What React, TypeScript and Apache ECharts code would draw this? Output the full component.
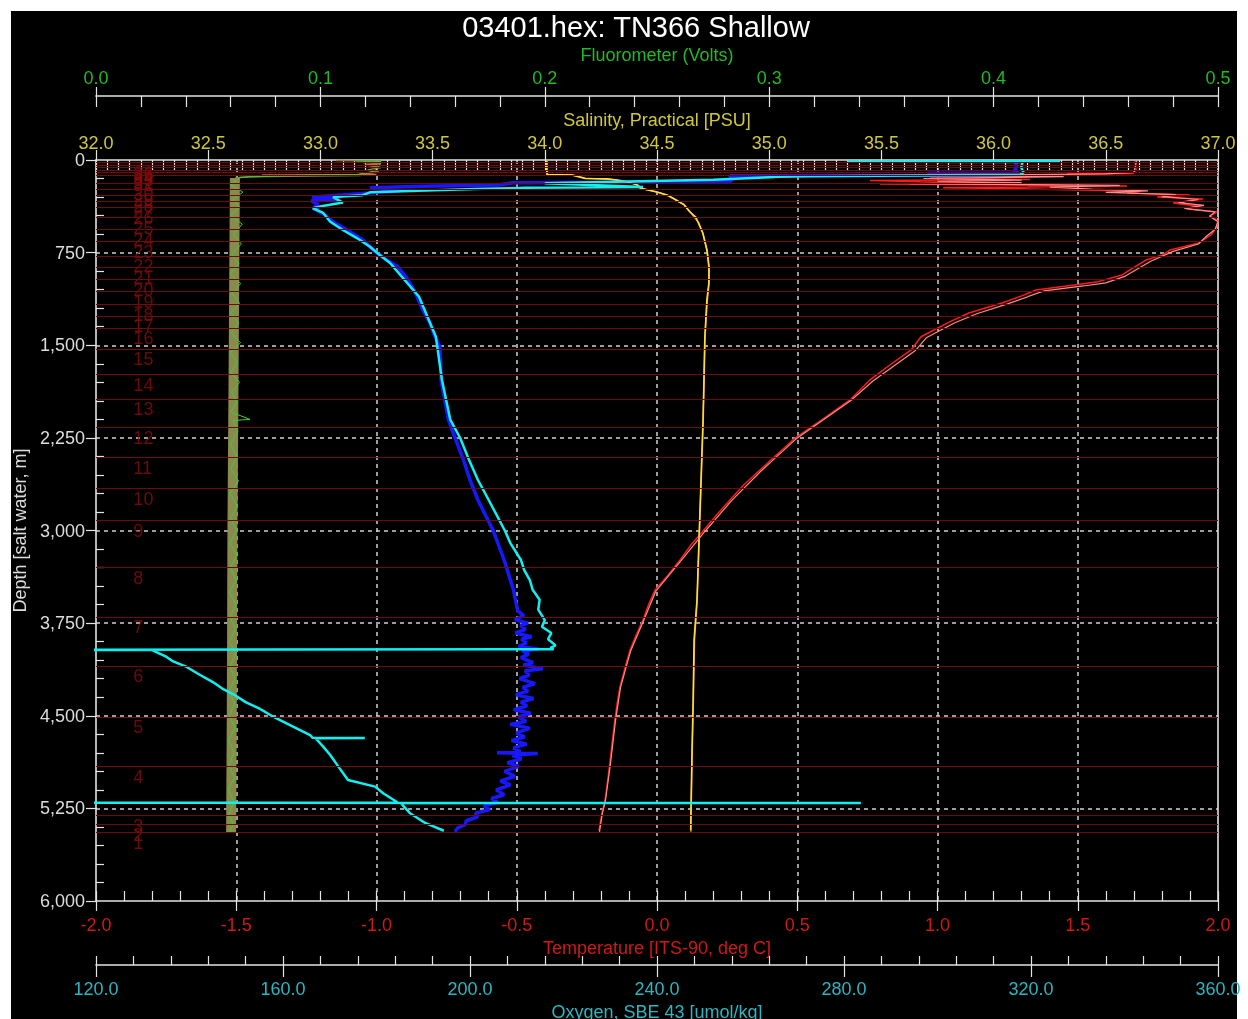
import { useEffect, useRef } from "react";
import * as echarts from "echarts";

const FONT = "'Liberation Sans', Arial, Helvetica, sans-serif";
const TITLE = "03401.hex: TN366 Shallow";

// ---- data: [depth m, value] ----
const TEMP_RED: [number, number][] = [
  [8, 1.704], [81, 1.708], [109, 1.697], [113, 1.462], [121, 1.472], [130, 1.069], [138, 1.305],
  [146, 0.973], [158, 1.33], [166, 0.759], [176, 0.938], [186, 1.258], [194, 0.795], [202, 1.305],
  [211, 1.676], [224, 1.02], [231, 1.258], [243, 1.519], [255, 1.722], [267, 1.676], [283, 1.9],
  [300, 1.783], [316, 1.946], [348, 1.84], [372, 1.925], [397, 1.89], [421, 1.996], [453, 1.971],
  [494, 2.0], [551, 1.993], [607, 1.975], [672, 1.932], [729, 1.829], [770, 1.8], [810, 1.743],
  [870, 1.7], [931, 1.658], [985, 1.572], [1012, 1.487], [1053, 1.351], [1100, 1.3], [1158, 1.23],
  [1239, 1.112], [1309, 1.045], [1431, 0.941], [1538, 0.906], [1660, 0.83], [1781, 0.759],
  [1943, 0.688], [2100, 0.59], [2251, 0.492], [2380, 0.43], [2510, 0.367], [2630, 0.31],
  [2753, 0.26], [2880, 0.21], [3004, 0.164], [3120, 0.12], [3239, 0.082], [3360, 0.04],
  [3482, -0.007], [3600, -0.03], [3725, -0.05], [3850, -0.075], [3968, -0.096], [4120, -0.115],
  [4267, -0.132], [4400, -0.142], [4534, -0.15], [4700, -0.159], [4882, -0.168], [5030, -0.176],
  [5182, -0.185], [5287, -0.196], [5431, -0.207],
];
const TEMP_PINK: [number, number][] = [
  [8, 1.71], [100, 1.7], [112, 1.6], [125, 1.07], [135, 1.45], [150, 0.95], [163, 1.3], [172, 1.0],
  [183, 1.3], [192, 0.9], [205, 1.65], [220, 1.4], [236, 1.55], [250, 1.75], [262, 1.6], [280, 1.85],
  [296, 1.8], [320, 1.93], [345, 1.86], [368, 1.95], [392, 1.88], [420, 1.99], [455, 1.97],
  [500, 2.0], [560, 1.99], [615, 1.96], [680, 1.93], [740, 1.84], [820, 1.76], [940, 1.67],
  [995, 1.6], [1020, 1.52], [1060, 1.38], [1165, 1.25], [1245, 1.14], [1320, 1.06], [1440, 0.96],
  [1545, 0.92], [1790, 0.77], [1950, 0.69], [2260, 0.495], [2520, 0.37], [2760, 0.265],
  [3010, 0.17], [3245, 0.085], [3490, -0.004], [3730, -0.048], [3975, -0.094], [4270, -0.13],
  [4540, -0.148], [4890, -0.166], [5190, -0.184], [5295, -0.195], [5440, -0.205],
];
const SAL_YELLOW: [number, number][] = [
  [8, 34.008], [60, 34.007], [118, 34.01], [122, 34.12], [150, 34.18], [152, 34.28], [178, 34.37],
  [200, 34.41], [227, 34.424], [259, 34.5], [283, 34.545], [324, 34.585], [364, 34.621],
  [421, 34.647], [462, 34.673], [502, 34.682], [591, 34.704], [729, 34.722], [866, 34.731],
  [996, 34.731], [1134, 34.722], [1271, 34.718], [1433, 34.713], [1781, 34.709], [2105, 34.705],
  [2591, 34.696], [3077, 34.687], [3563, 34.678], [3887, 34.665], [4372, 34.661], [4777, 34.656],
  [5182, 34.652], [5425, 34.65],
];
const SAL_ORANGE: [number, number][] = [
  [8, 34.01], [115, 34.012], [121, 34.008], [121.5, 34.126], [148, 34.18], [160, 34.32],
  [180, 34.38], [203, 34.415], [230, 34.43], [262, 34.505], [290, 34.55], [318, 34.58],
  [340, 34.6], [360, 34.62], [425, 34.65], [505, 34.685], [595, 34.705], [735, 34.724],
  [870, 34.733], [1000, 34.732], [1140, 34.724], [1280, 34.719], [1440, 34.714], [1790, 34.71],
  [2110, 34.706], [2600, 34.697], [3080, 34.688], [3570, 34.679], [3890, 34.667], [4380, 34.662],
  [4780, 34.657], [5190, 34.653], [5440, 34.651],
];
const OXY_BLUE: [number, number][] = [
  [2, 316.5], [50, 316.9], [95, 316.4], [105, 317.3], [108, 297.8], [112, 310], [122, 316.0],
  [128, 255.6], [170, 256.0], [178, 238.0], [184, 209.2], [202, 205.8], [212, 190.0], [224, 178.6],
  [250, 185.0], [300, 166.2], [320, 172.0], [330, 166.0], [360, 167.5], [391, 166.4], [445, 169.0],
  [500, 170.7], [567, 173.7], [648, 177.1], [742, 179.7], [810, 182.2], [864, 184.6], [956, 186.5],
  [1026, 187.6], [1107, 188.7], [1215, 189.9], [1320, 191.4], [1431, 192.5], [1512, 193.6],
  [1781, 193.8], [1943, 194.6], [2105, 195.4], [2251, 196.8], [2429, 198.6], [2591, 200.0],
  [2753, 201.7], [3004, 205.0], [3239, 207.3], [3482, 209.3], [3650, 210.2],
  [3690, 211.5], [3720, 209.6], [3750, 212.4], [3770, 210.8], [3800, 211.9], [3830, 209.7],
  [3860, 213.2], [3880, 211.0], [3910, 212.1], [3940, 210.4], [3960, 214.6], [3975, 211.2],
  [4000, 212.6], [4030, 210.9], [4070, 213.5], [4090, 211.4], [4120, 215.6], [4135, 211.8],
  [4170, 212.7], [4200, 210.6], [4240, 213.9], [4270, 211.3], [4300, 212.4], [4330, 209.8],
  [4360, 213.6], [4390, 210.9], [4420, 212.2], [4450, 209.4], [4480, 213.0], [4510, 210.3],
  [4545, 212.0], [4570, 208.6], [4600, 212.8], [4640, 209.9], [4670, 211.7], [4700, 208.9],
  [4730, 212.1], [4760, 209.3], [4790, 210.8], [4800, 205.8], [4805, 214.5], [4820, 209.1],
  [4850, 211.0], [4880, 208.0], [4910, 210.4], [4950, 207.4], [4990, 209.6], [5030, 206.5],
  [5060, 208.7], [5100, 205.6], [5140, 207.3], [5170, 204.6], [5200, 205.9], [5230, 203.0],
  [5260, 204.2], [5290, 201.2], [5320, 201.6], [5350, 199.2], [5380, 199.0], [5410, 197.3],
  [5440, 196.8],
];
const OXY_CYAN: [number, number][] = [
  [10, 326.2], [14, 280.6], [17, 318.2], [60, 317.9], [100, 318.4], [120, 317.6], [131, 272.0],
  [136, 265.7], [160, 252.0], [172, 236.4], [180, 226.0], [188, 216.0], [219, 237.0], [225, 211.8],
  [235, 201.0], [262, 178.6], [285, 177.0], [300, 170.7], [345, 172.8], [372, 168.5], [391, 166.4],
  [429, 168.6], [500, 170.1], [567, 172.8], [632, 175.8], [702, 178.6], [769, 180.7], [834, 182.9],
  [1107, 189.1], [1431, 192.7], [1781, 194.0], [2105, 195.8], [2251, 197.9], [2429, 199.8],
  [2591, 201.7], [2753, 204.0], [3004, 207.5], [3100, 208.6], [3239, 210.9], [3320, 211.6],
  [3401, 212.8], [3480, 213.4], [3560, 214.9], [3640, 214.6], [3725, 216.0], [3780, 215.4],
  [3830, 217.4], [3880, 216.7], [3930, 218.3], [3950, 217.2], [3962, 217.9], [3966, 110],
  [3968, 132.0], [4024, 135.1], [4060, 136.5], [4105, 139.4], [4160, 141.8], [4227, 145.0],
  [4280, 147.0], [4324, 149.3], [4390, 152.0], [4445, 155.1], [4510, 158.0], [4575, 161.5],
  [4656, 165.8], [4678, 166.3], [4680, 177.5], [4684, 167.0], [4750, 168.6], [4818, 170.1],
  [4920, 172.0], [5020, 173.9], [5074, 179.7], [5130, 181.5], [5182, 183.7], [5203, 184.5],
  [5205, 110], [5206, 283.6], [5208, 185.2], [5287, 187.1], [5368, 190.4], [5431, 194.4],
];
const FLUOR_SURFACE: [number, number][] = [
  [4, 0.107], [8, 0.127], [20, 0.119], [30, 0.127], [40, 0.12], [60, 0.127], [80, 0.121],
  [97, 0.126], [110, 0.118], [118, 0.125], [121, 0.074], [125, 0.118], [135, 0.068], [146, 0.062],
];
const FLUOR_BAND: [number, number][] = [
  [146, 0.0619], [1500, 0.0614], [3000, 0.0608], [4500, 0.0605], [5445, 0.0602],
];
const FLUOR_GREEN: [number, number][] = [
  [8, 0.116], [12, 0.127], [50, 0.126], [90, 0.124], [118, 0.116], [121, 0.095], [140, 0.064],
  [160, 0.063], [200, 0.0598], [260, 0.0655], [320, 0.061], [380, 0.064], [450, 0.06],
  [520, 0.0652], [600, 0.0612], [680, 0.0648], [760, 0.0604], [840, 0.0636], [920, 0.0598],
  [1000, 0.0645], [1080, 0.0606], [1160, 0.064], [1240, 0.06], [1320, 0.0636], [1400, 0.0603],
  [1480, 0.0644], [1560, 0.0598], [1640, 0.063], [1720, 0.06], [1800, 0.064], [1880, 0.0604],
  [1960, 0.0628], [2040, 0.06], [2100, 0.0686], [2110, 0.061], [2200, 0.0632], [2300, 0.0598],
  [2400, 0.0628], [2500, 0.0601], [2600, 0.0635], [2700, 0.0597], [2800, 0.063], [2900, 0.06],
  [3000, 0.0626], [3100, 0.0596], [3200, 0.0628], [3300, 0.0598], [3400, 0.0625], [3500, 0.0595],
  [3600, 0.0624], [3700, 0.0597], [3800, 0.0622], [3900, 0.0594], [4000, 0.0624], [4100, 0.0596],
  [4200, 0.062], [4300, 0.0592], [4400, 0.0618], [4500, 0.0594], [4600, 0.062], [4700, 0.0591],
  [4800, 0.0616], [4900, 0.0593], [5000, 0.0617], [5100, 0.059], [5200, 0.0614], [5300, 0.0592],
  [5380, 0.0612], [5440, 0.0595],
];
const BOTTLE_NUMBERS = [
  1, 2, 3, 4, 5, 6, 7, 8, 9, 10, 11, 12, 13, 14, 15, 16, 17, 18,
  19, 20, 21, 22, 23, 24, 25, 26, 27, 28, 29, 30, 31, 32, 33, 34, 35, 36,
];
const BOTTLE_DEPTHS = [
  5447, 5379, 5304, 4907, 4510, 4097, 3700, 3296, 2915, 2656, 2405, 2162, 1935, 1733, 1530, 1360,
  1263, 1166, 1066, 966, 869, 777, 656, 561, 464, 383, 338, 289, 235, 189, 121, 100, 80, 60, 40, 20,
];

// ---- styling ----
const WHITE = "#e4e4e4";
const C_TEMP = "#d01818";
const C_OXY = "#2ab6c2";
const C_SAL = "#cfc83a";
const C_FLU = "#22b822";
const C_DEPTH = "#dcdcdc";
const BOTTLE_LABEL_T = -1.865;

const tickStyle = { color: WHITE, width: 1.2 };

function mainX(o: any) {
  return {
    type: "value",
    position: o.position,
    offset: o.offset || 0,
    min: o.min,
    max: o.max,
    interval: o.interval,
    axisLine: { show: true, onZero: false, lineStyle: { color: WHITE, width: 1.6 } },
    axisTick: { show: true, inside: true, length: o.tickIn, lineStyle: tickStyle },
    minorTick: { show: true, splitNumber: o.minor, length: o.minorLen, lineStyle: tickStyle },
    axisLabel: {
      show: true,
      color: o.color,
      fontSize: 18,
      fontFamily: FONT,
      margin: o.margin,
      showMinLabel: true,
      showMaxLabel: true,
      formatter: (v: number) => v.toFixed(1),
    },
    splitLine: o.split
      ? {
          show: true,
          showMinLine: false,
          showMaxLine: false,
          lineStyle: { color: "#d0d0d0", type: [4, 4], width: 1.5 },
        }
      : { show: false },
    name: o.name,
    nameLocation: "middle",
    nameGap: o.nameGap,
    nameTextStyle: { color: o.color, fontSize: 18, fontFamily: FONT },
  };
}
function dupX(o: any) {
  return {
    type: "value",
    position: o.position,
    offset: o.offset || 0,
    min: o.min,
    max: o.max,
    interval: o.interval,
    axisLine: { show: false, onZero: false },
    axisTick: { show: true, inside: false, length: o.len, lineStyle: tickStyle },
    minorTick: { show: false },
    axisLabel: { show: false },
    splitLine: { show: false },
  };
}

const TEMP_AX = { position: "bottom", min: -2, max: 2, interval: 0.5 };
const OXY_AX = { position: "bottom", offset: 64, min: 120, max: 360, interval: 40 };
const SAL_AX = { position: "top", min: 32, max: 37, interval: 0.5 };
const FLU_AX = { position: "top", offset: 64, min: 0, max: 0.5, interval: 0.1 };

function lineSeries(data: [number, number][], xAxisIndex: number, color: string, width: number, z: number) {
  return {
    type: "line",
    xAxisIndex,
    yAxisIndex: 0,
    data: data.map(([d, v]) => [v, d]),
    showSymbol: false,
    symbol: "none",
    silent: true,
    clip: true,
    z,
    lineStyle: { color, width },
  };
}

export default function App() {
  const ref = useRef<HTMLDivElement>(null);
  useEffect(() => {
    const chart = echarts.init(ref.current!, null, { renderer: "svg" });
    const option: any = {
      animation: false,
      backgroundColor: "transparent",
      textStyle: { fontFamily: FONT },
      graphic: [
        {
          type: "rect",
          z: -100,
          silent: true,
          shape: { x: 0, y: 0, width: 1226, height: 1008 },
          style: { fill: "#000000" },
        },
        {
          type: "text",
          x: 625,
          y: 16,
          style: {
            text: TITLE,
            fill: "#ffffff",
            font: `29px ${FONT}`,
            align: "center",
            verticalAlign: "middle",
          },
        },
      ],
      grid: {
        left: 85,
        top: 149,
        right: 30,
        bottom: 118,
        containLabel: false,
        outerBoundsMode: "none",
      },
      xAxis: [
        mainX({ ...TEMP_AX, tickIn: 10, minor: 5, minorLen: 10, color: C_TEMP, margin: 15, split: true, name: "Temperature [ITS-90, deg C]", nameGap: 35 }),
        mainX({ ...OXY_AX, tickIn: 9, minor: 5, minorLen: 9, color: C_OXY, margin: 15, split: false, name: "Oxygen, SBE 43 [umol/kg]", nameGap: 36 }),
        mainX({ ...SAL_AX, tickIn: 11, minor: 10, minorLen: 10, color: C_SAL, margin: 8, split: false, name: "Salinity, Practical [PSU]", nameGap: 29 }),
        mainX({ ...FLU_AX, tickIn: 11, minor: 5, minorLen: 11, color: C_FLU, margin: 9, split: false, name: "Fluorometer (Volts)", nameGap: 30 }),
        dupX({ ...TEMP_AX, len: 10 }),
        dupX({ ...OXY_AX, len: 12 }),
        dupX({ ...SAL_AX, len: 10 }),
        dupX({ ...FLU_AX, len: 9 }),
      ],
      yAxis: [
        {
          type: "value",
          inverse: true,
          min: 0,
          max: 6000,
          interval: 750,
          position: "left",
          axisLine: { show: true, onZero: false, lineStyle: { color: WHITE, width: 1.6 } },
          axisTick: { show: true, inside: false, length: 10, lineStyle: tickStyle },
          axisLabel: {
            color: C_DEPTH,
            fontSize: 18,
            fontFamily: FONT,
            margin: 11,
            formatter: (v: number) => v.toLocaleString("en-US"),
          },
          splitLine: {
            show: true,
            showMinLine: false,
            showMaxLine: false,
            lineStyle: { color: "#d0d0d0", type: [4, 4], width: 1.5 },
          },
          name: "Depth [salt water, m]",
          nameLocation: "middle",
          nameGap: 67,
          nameTextStyle: { color: C_DEPTH, fontSize: 18, fontFamily: FONT },
        },
        {
          type: "value",
          inverse: true,
          min: 0,
          max: 6000,
          interval: 750,
          position: "left",
          axisLine: { show: false, onZero: false },
          axisTick: { show: false, inside: true },
          minorTick: { show: true, splitNumber: 5, length: 8, lineStyle: tickStyle },
          axisLabel: { show: false },
          splitLine: { show: false },
        },
        {
          type: "value",
          inverse: true,
          min: 0,
          max: 6000,
          position: "right",
          axisLine: { show: true, onZero: false, lineStyle: { color: WHITE, width: 1.6 } },
          axisTick: { show: false },
          axisLabel: { show: false },
          splitLine: { show: false },
        },
      ],
      series: [
        {
          type: "scatter",
          xAxisIndex: 0,
          yAxisIndex: 0,
          symbolSize: 1,
          itemStyle: { color: "rgba(0,0,0,0)" },
          silent: true,
          z: 1,
          data: BOTTLE_NUMBERS.map((n, i) => ({ value: [BOTTLE_LABEL_T, BOTTLE_DEPTHS[i]], name: String(n) })),
          label: {
            show: true,
            position: [0, 2],
            formatter: "{b}",
            color: "#8a0c0c",
            fontSize: 18,
            fontFamily: FONT,
          },
          markLine: {
            silent: true,
            symbol: ["none", "none"],
            label: { show: false },
            lineStyle: { color: "#6e0c0c", width: 1.2, type: "solid" },
            data: BOTTLE_DEPTHS.map((d) => ({ yAxis: d })),
          },
        },
        lineSeries(FLUOR_BAND, 3, "#8a8a4c", 10, 3),
        lineSeries(FLUOR_SURFACE, 3, "#9a7a4a", 1.5, 3),
        lineSeries(FLUOR_GREEN, 3, "#3ad03a", 1, 4),
        lineSeries(SAL_ORANGE, 2, "#f0903a", 1.5, 3),
        lineSeries(SAL_YELLOW, 2, "#ffe030", 1.5, 4),
        lineSeries(TEMP_RED, 0, "#ff1a1a", 1.5, 3),
        lineSeries(TEMP_PINK, 0, "#ff8a8a", 1.2, 4),
        lineSeries(OXY_BLUE, 1, "#1818ff", 3.5, 3),
        lineSeries(OXY_CYAN, 1, "#10f0f0", 2.5, 4),
      ],
    };
    chart.setOption(option);
    return () => chart.dispose();
  }, []);
  return (
    <div
      ref={ref}
      style={{ position: "fixed", left: 11, top: 11, width: 1237, height: 1008 }}
    />
  );
}
